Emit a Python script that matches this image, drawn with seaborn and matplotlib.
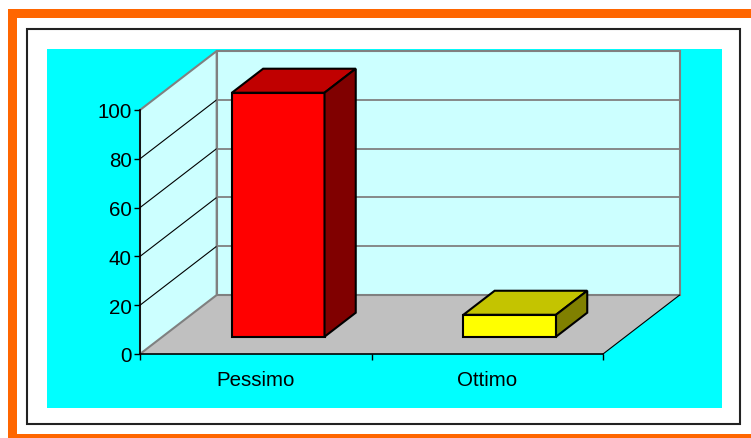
import matplotlib
matplotlib.use("Agg")
import matplotlib.pyplot as plt
import seaborn as sns
import pandas as pd
from matplotlib.patches import Polygon, Rectangle
from matplotlib.transforms import IdentityTransform, ScaledTranslation
from matplotlib.lines import Line2D

# ---- data ----
categories = ["Pessimo", "Ottimo"]
values = [100, 9]
y_ticks = [0, 20, 40, 60, 80, 100]

# ---- styles ----
bar_colors = ["#FF0000", "#FFFF00"]
top_colors = ["#C00000", "#C4C400"]
side_colors = ["#800000", "#808000"]

W, H, DPI = 751, 439, 100
sns.set_theme(style="white")
plt.rcParams['font.family'] = ['Liberation Sans', 'DejaVu Sans']
plt.rcParams['text.color'] = 'black'

fig = plt.figure(figsize=(W / DPI, H / DPI), dpi=DPI)
fig.patch.set_facecolor('white')

# background axes in pixel coordinates (y down)
bg = fig.add_axes([0, 0, 1, 1], zorder=-1)
bg.set_xlim(0, W)
bg.set_ylim(H, 0)
bg.axis('off')


def bg_rect(x0, y0, x1, y1, **kw):
    bg.add_patch(Rectangle((x0, y0), x1 - x0, y1 - y0, **kw))


OR = '#FF6600'
bg_rect(8, 10, W, 19, facecolor=OR, edgecolor='none')
bg_rect(8, 10, 17, H, facecolor=OR, edgecolor='none')
bg_rect(8, 435, W, H, facecolor=OR, edgecolor='none')
bg_rect(741, 19, W, 435, facecolor='white', edgecolor='none')
bg_rect(27, 30, 740, 425.5, facecolor='none', edgecolor='#222222', lw=1.5)
bg_rect(47, 50, 722, 409, facecolor='#00FFFF', edgecolor='none')

# front plane axes
ax = fig.add_axes([140 / W, (H - 355) / H, 463 / W, 244 / H], zorder=1)
ax.patch.set_visible(False)

df = pd.DataFrame({'cat': categories, 'val': values})
sns.barplot(data=df, x='cat', y='val', hue='cat', palette=bar_colors,
            saturation=1, width=0.40, edgecolor='black', linewidth=1.5,
            legend=False, ax=ax, zorder=2)

ax.set_xlim(-0.5, 1.5)
ax.set_ylim(0, 100)
ax.set_xlabel('')
ax.set_ylabel('')
ax.set_yticks(y_ticks)
ax.set_yticklabels([str(t) for t in y_ticks])
ax.set_xticks([-0.5, 0.5, 1.5])
ax.set_xticklabels([])
ax.set_xticks([0, 1], minor=True)
ax.set_xticklabels(categories, minor=True)
ax.tick_params(axis='y', direction='out', length=4.5, width=1, color='black',
               labelsize=14.8, labelcolor='black', pad=1.5, left=True)
ax.tick_params(axis='x', which='major', direction='out', length=4.5, width=1,
               color='black', bottom=True)
ax.tick_params(axis='x', which='minor', length=0, labelsize=14.8,
               labelcolor='black', pad=11.5)
for s in ['top', 'right']:
    ax.spines[s].set_visible(False)
for s in ['left', 'bottom']:
    ax.spines[s].set_color('black')
    ax.spines[s].set_linewidth(1.2)

# 3D depth (pixels)
DX, DY = 76.7, 59.0
F0, F1 = 0.293, 0.70
ident = IdentityTransform()


def P(x, z, d):
    px, py = ax.transData.transform((x, z))
    return (px + d * DX, py + d * DY)


xmin, xmax = ax.get_xlim()
zmax = ax.get_ylim()[1]

# walls and floor
floor = [P(xmin, 0, 0), P(xmax, 0, 0), P(xmax, 0, 1), P(xmin, 0, 1)]
ax.add_patch(Polygon(floor, closed=True, transform=ident, facecolor='#C0C0C0',
                     edgecolor='none', clip_on=False, zorder=0.2))
left_wall = [P(xmin, 0, 0), P(xmin, zmax, 0), P(xmin, zmax, 1), P(xmin, 0, 1)]
ax.add_patch(Polygon(left_wall, closed=True, transform=ident, facecolor='#CCFFFF',
                     edgecolor='#808080', lw=1.5, clip_on=False, zorder=0.3))
back_wall = [P(xmin, 0, 1), P(xmax, 0, 1), P(xmax, zmax, 1), P(xmin, zmax, 1)]
ax.add_patch(Polygon(back_wall, closed=True, transform=ident, facecolor='#CCFFFF',
                     edgecolor='#808080', lw=1.5, clip_on=False, zorder=0.3))
a, b = P(xmax, 0, 0), P(xmax, 0, 1)
ax.add_line(Line2D([a[0], b[0]], [a[1], b[1]], transform=ident, color='black',
                   lw=0.8, clip_on=False, zorder=0.4))

for t in y_ticks[1:-1]:
    a, b = P(xmin, t, 0), P(xmin, t, 1)
    ax.add_line(Line2D([a[0], b[0]], [a[1], b[1]], transform=ident, color='black',
                       lw=0.8, clip_on=False, zorder=0.5))
    a, b = P(xmin, t, 1), P(xmax, t, 1)
    ax.add_line(Line2D([a[0], b[0]], [a[1], b[1]], transform=ident, color='#808080',
                       lw=1.3, clip_on=False, zorder=0.5))

# 3D bars
off = ScaledTranslation(F0 * DX / DPI, F0 * DY / DPI, fig.dpi_scale_trans)
for patch in list(ax.patches):
    if not isinstance(patch, Rectangle):
        continue
    x0 = patch.get_x()
    w = patch.get_width()
    h = patch.get_height()
    y0 = patch.get_y()
    x1 = x0 + w
    i = int(round(x0 + w / 2))
    patch.set_transform(ax.transData + off)
    patch.set_clip_on(False)
    patch.set_joinstyle('miter')
    top = [P(x0, y0 + h, F0), P(x1, y0 + h, F0), P(x1, y0 + h, F1), P(x0, y0 + h, F1)]
    side = [P(x1, y0 + h, F0), P(x1, y0, F0), P(x1, y0, F1), P(x1, y0 + h, F1)]
    ax.add_patch(Polygon(top, closed=True, transform=ident, facecolor=top_colors[i],
                         edgecolor='black', lw=1.5, joinstyle='miter',
                         clip_on=False, zorder=2))
    ax.add_patch(Polygon(side, closed=True, transform=ident, facecolor=side_colors[i],
                         edgecolor='black', lw=1.5, joinstyle='miter',
                         clip_on=False, zorder=2))

fig.savefig('out.png', dpi=DPI, facecolor='white')
